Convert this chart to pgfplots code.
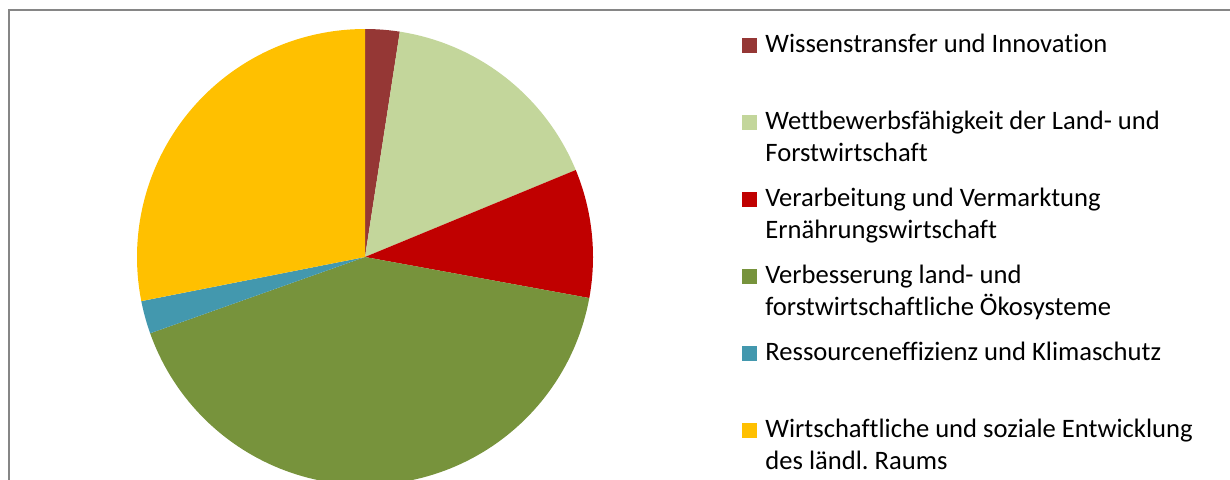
\documentclass[border=0pt]{standalone}
\usepackage{fontspec}
\setmainfont{Carlito}[Ligatures=CommonOff]
\usepackage{pgfplots}
\usepackage{pgfplotstable}
\pgfplotsset{compat=1.18}
\frenchspacing

\definecolor{c0}{HTML}{953735}
\definecolor{c1}{HTML}{C3D69B}
\definecolor{c2}{HTML}{C00000}
\definecolor{c3}{HTML}{77933C}
\definecolor{c4}{HTML}{4398AE}
\definecolor{c5}{HTML}{FFC000}
\definecolor{framegray}{HTML}{868686}

% shares in percent, clockwise from 12 o'clock
\pgfplotstableread{
pct
2.44
16.33
9.11
41.69
2.33
28.10
}\piedata

\def\cum{0}
\newcommand\pieslice[2]{%
  \pgfplotstablegetelem{#1}{pct}\of\piedata
  \pgfmathsetmacro\sa{90-3.6*\cum}%
  \pgfmathsetmacro\cumnew{\cum+\pgfplotsretval}%
  \global\let\cum\cumnew
  \pgfmathsetmacro\sb{90-3.6*\cum}%
  \edef\temp{\noexpand\addplot[fill=#2, draw=none, domain=\sb:\sa, samples=100]
    ({365+228*cos(x)},{222+228*sin(x)}) -- (axis cs:365,222) -- cycle;}%
  \temp
}

\begin{document}
\begin{tikzpicture}
\begin{axis}[
  name=ax,
  x=0.5pt, y=0.5pt,
  xmin=0, xmax=1230, ymin=0, ymax=479,
  hide axis,
  clip=true,
  legend image code/.code={\fill[#1] (0pt,-0.2pt) rectangle (7.5pt,7.3pt);},
  legend style={
    at={(axis cs:742,447)}, anchor=north west,
    draw=none, fill=none, inner sep=0pt,
    font=\fontsize{13.3pt}{16pt}\selectfont,
    row sep=27.5pt, column sep=4pt,
    cells={anchor=base west},
    nodes={inner sep=0pt, text height=10pt, text depth=1pt},
  },
]
\addplot[draw=framegray, line width=1pt, forget plot] coordinates {(9,-20) (9,469) (1260,469)};

\pieslice{0}{c0}
\addlegendentry{Wissenstransfer und Innovation}
\pieslice{1}{c1}
\addlegendentry{\parbox[t]{300pt}{Wettbewerbsfähigkeit der Land- und\\Forstwirtschaft}}
\pieslice{2}{c2}
\addlegendentry{\parbox[t]{300pt}{Verarbeitung und Vermarktung\\Ernährungswirtschaft}}
\pieslice{3}{c3}
\addlegendentry{\parbox[t]{300pt}{Verbesserung land- und\\forstwirtschaftliche Ökosysteme}}
\pieslice{4}{c4}
\addlegendentry{Ressourceneffizienz und Klimaschutz}
\pieslice{5}{c5}
\addlegendentry{\parbox[t]{300pt}{Wirtschaftliche und soziale Entwicklung\\des ländl. Raums}}
\end{axis}
\pgfresetboundingbox
\path[use as bounding box] (ax.south west) rectangle (ax.north east);
\end{tikzpicture}
\end{document}
